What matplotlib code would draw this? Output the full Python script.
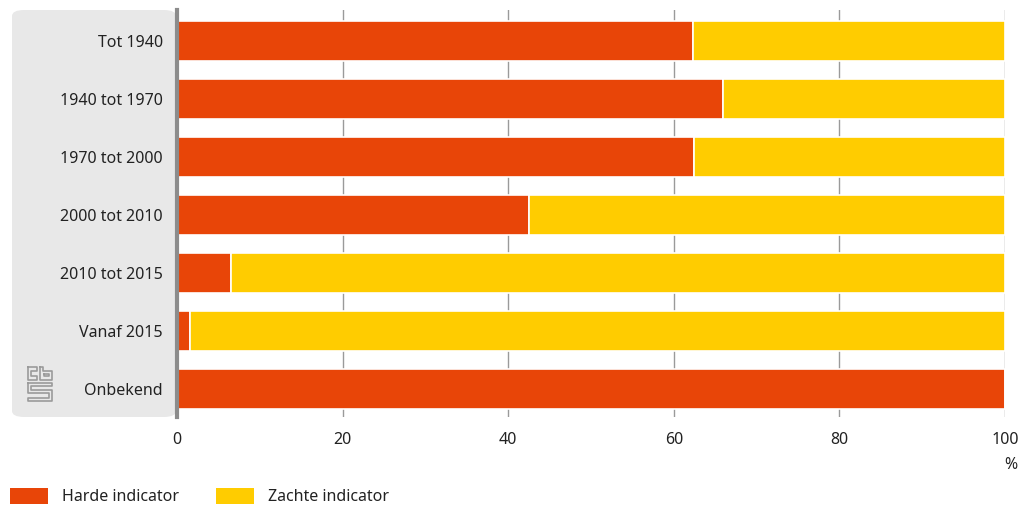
import matplotlib.pyplot as plt
import numpy as np
from matplotlib.patches import FancyBboxPatch, Rectangle

categories = ['Tot 1940', '1940 tot 1970', '1970 tot 2000', '2000 tot 2010',
              '2010 tot 2015', 'Vanaf 2015', 'Onbekend']
harde = [62.3, 65.9, 62.4, 42.5, 6.5, 1.6, 100.0]
zachte = [37.7, 34.1, 37.6, 57.5, 93.5, 98.4, 0.0]
xticks = [0, 20, 40, 60, 80, 100]

orange = '#e84508'
yellow = '#ffcc00'

plt.rcParams['font.family'] = ['Noto Sans', 'DejaVu Sans']

W, H = 1026, 506
fig = plt.figure(figsize=(W / 100, H / 100), dpi=100)

# grey label panel behind the category names
panel = FancyBboxPatch((12 / W, (H - 418) / H), (176 - 12) / W, (418 - 11) / H,
                       boxstyle='round,pad=0,rounding_size=0.012',
                       transform=fig.transFigure, facecolor='#e8e8e8',
                       edgecolor='none', zorder=-10)
fig.patches.append(panel)

ax = fig.add_axes([177 / W, (H - 418) / H, (1005 - 177) / W, (418 - 11) / H])
ax.patch.set_alpha(0)

y = np.arange(len(categories))
ax.barh(y + 0.02, harde, height=0.69, color=orange, edgecolor='white', linewidth=1.2,
        label='Harde indicator', zorder=3)
ax.barh(y + 0.02, zachte, left=harde, height=0.69, color=yellow, edgecolor='white',
        linewidth=1.2, label='Zachte indicator', zorder=3)

ax.set_ylim(len(categories) - 0.5, -0.52)
ax.set_xlim(0, 100)
ax.set_yticks(y)
ax.set_yticklabels(categories, fontsize=11.5, color='#222222')
ax.set_xticks(xticks)
ax.set_xticklabels([str(t) for t in xticks], fontsize=11.5, color='#222222')
ax.tick_params(axis='y', length=0, pad=10)
ax.tick_params(axis='x', length=0, pad=10)

for t in xticks[1:]:
    ax.axvline(t, color='#9a9a9a', linewidth=1, zorder=1)

for s in ['top', 'right', 'bottom']:
    ax.spines[s].set_visible(False)
ax.spines['left'].set_color('#8c8c8c')
ax.spines['left'].set_linewidth(3)
ax.spines['left'].set_zorder(4)

fig.text(1011 / W, (H - 465) / H, '%', fontsize=11.5, color='#222222',
         ha='center', va='center')

# legend
for x0, col, lab in [(10, orange, 'Harde indicator'), (216, yellow, 'Zachte indicator')]:
    fig.patches.append(Rectangle((x0 / W, (H - 505) / H), 38 / W, 16 / H,
                                 transform=fig.transFigure, facecolor=col,
                                 edgecolor='none'))
    fig.text((x0 + 52) / W, (H - 497) / H, lab, fontsize=11.5, color='#222222',
             ha='left', va='center')

# simplified cbs logo
lx, ly = 27, 367
logo = fig.add_axes([lx / W, (H - ly - 36) / H, 26 / W, 36 / H])
logo.axis('off')
logo.set_xlim(0, 26)
logo.set_ylim(32, 0)
lc = '#9a9a9a'
segs = [
    [(1, 1), (10, 1), (10, 4), (4, 4), (4, 9), (10, 9), (10, 12), (1, 12), (1, 1)],
    [(13, 1), (16, 1), (16, 4), (25, 4), (25, 12), (13, 12), (13, 1)],
    [(17, 7), (22, 7), (22, 9), (17, 9), (17, 7)],
    [(1, 15), (25, 15), (25, 18), (4, 18), (4, 21), (25, 21), (25, 31), (1, 31),
     (1, 28), (22, 28), (22, 24), (1, 24), (1, 15)],
]
for s in segs:
    xs, ys = zip(*s)
    logo.plot(xs, ys, color=lc, linewidth=1.2)

fig.savefig('out.png', dpi=100)
